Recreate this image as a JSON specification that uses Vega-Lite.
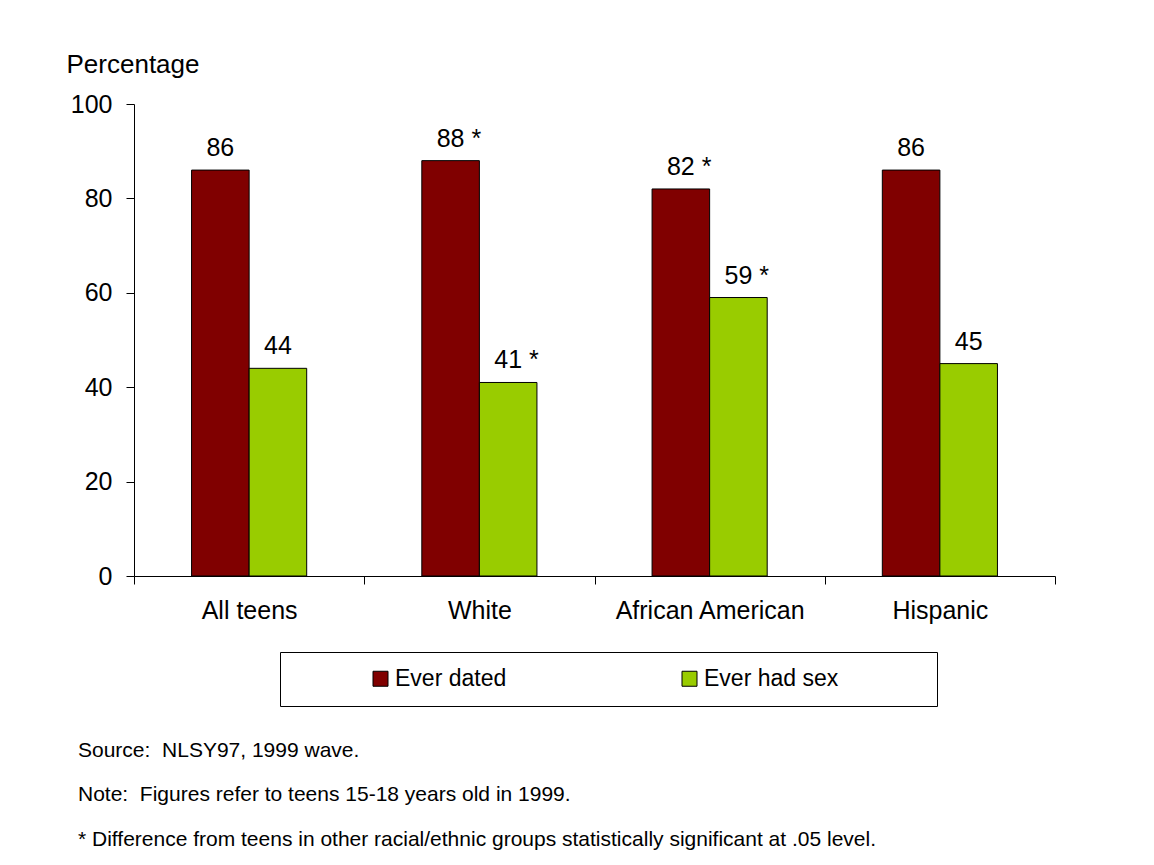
{
  "$schema": "https://vega.github.io/schema/vega-lite/v6.json",
  "width": 921,
  "height": 472,
  "autosize": "none",
  "padding": {"left": 134, "top": 104, "right": 99, "bottom": 289},
  "background": "white",
  "config": {
    "font": "Liberation Sans",
    "view": {"stroke": null},
    "axis": {"domainColor": "black", "tickColor": "black", "labelColor": "black", "titleColor": "black", "grid": false, "domainWidth": 1, "tickWidth": 1}
  },
  "title": {
    "text": ["Source:\u00a0 NLSY97, 1999 wave.", "Note:\u00a0 Figures refer to teens 15-18 years old in 1999.", "* Difference from teens in other racial/ethnic groups statistically significant at .05 level."],
    "orient": "bottom",
    "anchor": "start",
    "frame": "group",
    "dx": -56,
    "offset": 33,
    "fontSize": 21,
    "fontWeight": "normal",
    "lineHeight": 44.5,
    "baseline": "top",
    "color": "black",
    "font": "Liberation Sans"
  },
  "data": {
    "values": [
      {"group": "All teens", "measure": "Ever dated", "value": 86, "label": "86"},
      {"group": "All teens", "measure": "Ever had sex", "value": 44, "label": "44"},
      {"group": "White", "measure": "Ever dated", "value": 88, "label": "88 *"},
      {"group": "White", "measure": "Ever had sex", "value": 41, "label": "41 *"},
      {"group": "African American", "measure": "Ever dated", "value": 82, "label": "82 *"},
      {"group": "African American", "measure": "Ever had sex", "value": 59, "label": "59 *"},
      {"group": "Hispanic", "measure": "Ever dated", "value": 86, "label": "86"},
      {"group": "Hispanic", "measure": "Ever had sex", "value": 45, "label": "45"}
    ]
  },
  "encoding": {
    "x": {
      "field": "group",
      "type": "nominal",
      "sort": ["All teens", "White", "African American", "Hispanic"],
      "scale": {"paddingInner": 0, "paddingOuter": 0},
      "axis": {"title": null, "labelAngle": 0, "labelFontSize": 25, "labelLimit": 400, "tickBand": "extent", "tickSize": 8, "labelPadding": 14, "labelBaseline": "top"}
    },
    "xOffset": {
      "field": "measure",
      "type": "nominal",
      "sort": ["Ever dated", "Ever had sex"],
      "scale": {"paddingInner": 0, "paddingOuter": 1.093}
    },
    "y": {
      "field": "value",
      "type": "quantitative",
      "scale": {"domain": [0, 100], "nice": false},
      "axis": {
        "title": "Percentage",
        "values": [0, 20, 40, 60, 80, 100],
        "labelFontSize": 25,
        "tickSize": 8,
        "labelPadding": 14,
        "titleFontSize": 26,
        "titleFontWeight": "normal",
        "titleAngle": 0,
        "titleAlign": "left",
        "titleBaseline": "alphabetic",
        "titleX": -68,
        "titleY": -32
      }
    }
  },
  "layer": [
    {
      "mark": {"type": "bar", "stroke": "black", "strokeWidth": 1},
      "encoding": {
        "color": {
          "field": "measure",
          "type": "nominal",
          "scale": {"domain": ["Ever dated", "Ever had sex"], "range": ["#800000", "#99CC00"]},
          "legend": {
            "title": " ",
            "titleOrient": "left",
            "titleFontSize": 10,
            "titlePadding": 74,
            "orient": "none",
            "legendX": 146,
            "legendY": 548,
            "direction": "horizontal",
            "strokeColor": "black",
            "padding": 15,
            "symbolType": "square",
            "symbolSize": 225,
            "symbolStrokeColor": "black",
            "symbolStrokeWidth": 1,
            "labelFontSize": 23,
            "labelColor": "black",
            "labelOffset": 3,
            "labelLimit": 500,
            "columnPadding": 171,
            "labelExpr": "datum.label == 'Ever had sex' ? datum.label + '\u00a0\u00a0\u00a0\u00a0\u00a0\u00a0\u00a0\u00a0\u00a0\u00a0\u00a0\u00a0\u00a0\u200b' : datum.label"
          }
        }
      }
    },
    {
      "mark": {"type": "text", "align": "left", "baseline": "alphabetic", "dx": -13.9, "dy": -14, "fontSize": 25, "color": "black"},
      "encoding": {"text": {"field": "label"}}
    }
  ]
}
